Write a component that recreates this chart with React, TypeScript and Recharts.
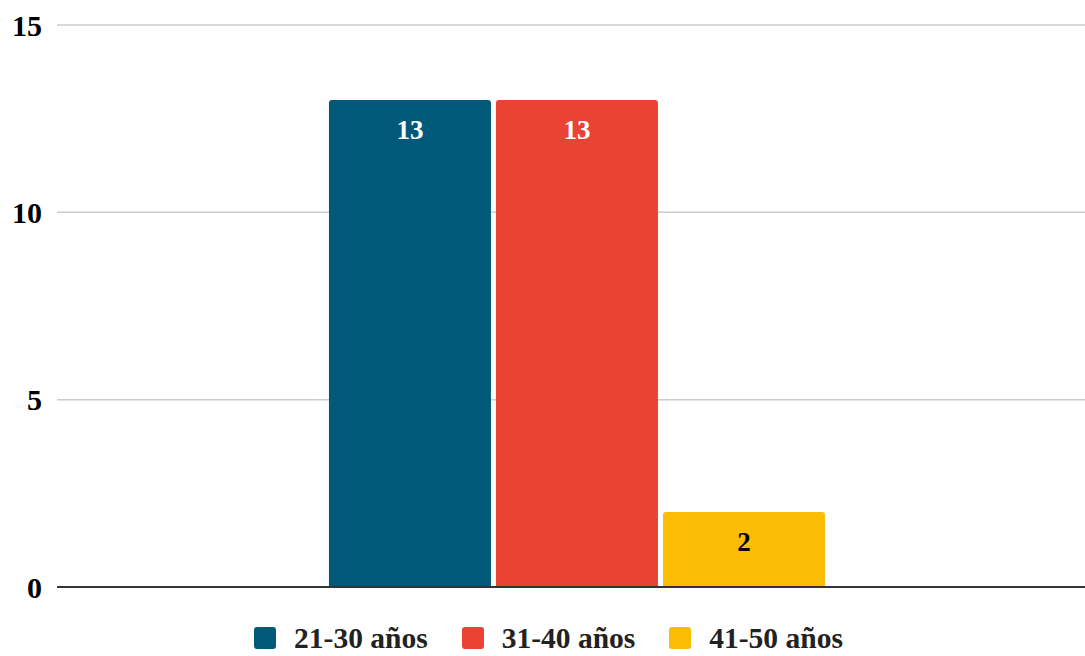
import React from 'react';
import { BarChart, Bar, XAxis, YAxis, CartesianGrid, Legend, LabelList } from 'recharts';

const categories = [''];
const serie2130 = [13];
const serie3140 = [13];
const serie4150 = [2];
const yTicks = [0, 5, 10, 15];

const series = [
  { key: 'a', name: '21-30 años', color: '#01597A', label: '#FFFFFF' },
  { key: 'b', name: '31-40 años', color: '#EA4335', label: '#FFFFFF' },
  { key: 'c', name: '41-50 años', color: '#FBBC04', label: '#000000' },
];

const data = categories.map((name, i) => ({
  name,
  a: serie2130[i],
  b: serie3140[i],
  c: serie4150[i],
}));

const font = '"Liberation Serif", "Times New Roman", serif';

const renderLegend = () => (
  <div style={{ display: 'flex', justifyContent: 'center', gap: 34, fontFamily: font, fontWeight: 'bold', fontSize: 29.5, lineHeight: '30px', position: 'relative', top: 1 }}>
    {series.map((s) => (
      <div key={s.key} style={{ display: 'flex', alignItems: 'center' }}>
        <span style={{ width: 22, height: 22, background: s.color, borderRadius: 3, marginRight: 18, display: 'inline-block' }} />
        <span style={{ color: '#222' }}>{s.name}</span>
      </div>
    ))}
  </div>
);

const App: React.FC = () => {
  return (
    <div style={{ position: 'absolute', left: 0, top: 0, width: 1085, height: 656, background: '#fff', overflow: 'hidden' }}>
      <BarChart
        width={1097}
        height={656}
        data={data}
        margin={{ top: 25, right: 0, left: 0, bottom: 4 }}
        barCategoryGap="26.15%"
        barGap={5}
      >
        <CartesianGrid vertical={false} stroke="#cccccc" strokeWidth={1.5} />
        <XAxis dataKey="name" tick={false} axisLine={{ stroke: '#333333', strokeWidth: 2 }} tickLine={false} height={35} />
        <YAxis
          domain={[0, 15]}
          ticks={yTicks}
          width={57}
          axisLine={false}
          tickLine={false}
          tickSize={0}
          tickMargin={15}
          tick={{ fill: '#000', fontFamily: font, fontWeight: 'bold', fontSize: 30 }}
        />
        <Legend verticalAlign="bottom" content={renderLegend} />
        {series.map((s) => (
          <Bar key={s.key} dataKey={s.key} name={s.name} fill={s.color} radius={[3, 3, 0, 0]} isAnimationActive={false}>
            <LabelList
              dataKey={s.key}
              position="insideTop"
              offset={20}
              fill={s.label}
              style={{ fontFamily: font, fontWeight: 'bold', fontSize: 27 }}
            />
          </Bar>
        ))}
      </BarChart>
    </div>
  );
};

export default App;
